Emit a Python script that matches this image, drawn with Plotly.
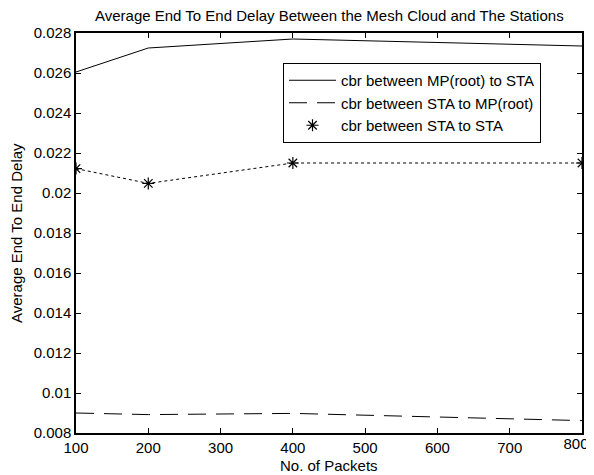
import plotly.graph_objects as go

# ---- data ----
packets = [100, 200, 400, 800]
mp_to_sta = [0.02605, 0.02725, 0.0277, 0.02735]
sta_to_mp = [0.00900, 0.00892, 0.00898, 0.00862]
sta_to_sta = [0.02122, 0.02048, 0.02150, 0.02150]

x_ticks = [100, 200, 300, 400, 500, 600, 700]
x_last_tick = [800]
y_ticks = [0.008, 0.010, 0.012, 0.014, 0.016, 0.018, 0.020, 0.022, 0.024, 0.026, 0.028]
y_tick_text = ["0.008", "0.01", "0.012", "0.014", "0.016", "0.018", "0.02",
               "0.022", "0.024", "0.026", "0.028"]

title = "Average End To End Delay Between the Mesh Cloud and The Stations"
x_title = "No. of Packets"
y_title = "Average End To End Delay"
names = ["cbr between MP(root) to STA", "cbr between STA to MP(root)", "cbr between STA to STA"]

FONT = "Liberation Sans, Arial, sans-serif"
# page body has an 8px margin; figure placed at (8, 8)
W, H = 594, 467
L, R, T, B = 68, 20, 25, 42

fig = go.Figure()
fig.add_trace(go.Scatter(x=packets, y=mp_to_sta, mode="lines", name=names[0],
                         line=dict(color="black", width=1)))
fig.add_trace(go.Scatter(x=packets, y=sta_to_mp, mode="lines", name=names[1],
                         line=dict(color="black", width=1, dash="18px,10px")))
fig.add_trace(go.Scatter(x=packets, y=sta_to_sta, mode="lines", showlegend=False,
                         xaxis="x2",
                         line=dict(color="black", width=1, dash="3px,3px")))
fig.add_trace(go.Scatter(x=packets, y=sta_to_sta, mode="markers", name=names[2],
                         marker=dict(symbol="asterisk-open", size=10, color="black",
                                     line=dict(color="black", width=1.2))))

axis_common = dict(showline=True, linecolor="black", linewidth=1.5, mirror="ticks",
                   ticks="inside", ticklen=5, tickcolor="black", tickwidth=1,
                   showgrid=False, zeroline=False, automargin=False,
                   ticklabeloverflow="allow",
                   tickfont=dict(family=FONT, size=15, color="black"))

fig.update_layout(
    xaxis=dict(range=[100, 800], tickvals=x_ticks + x_last_tick,
               ticktext=[str(v) for v in x_ticks] + [""], **axis_common),
    xaxis2=dict(range=[100, 800], matches="x", overlaying="x", side="bottom",
                tickvals=x_last_tick, ticktext=[str(v) for v in x_last_tick],
                showline=False, ticks="", showgrid=False, zeroline=False,
                automargin=False, ticklabeloverflow="allow", ticklabelshift=-6,
                tickfont=dict(family=FONT, size=15, color="black")),
    yaxis=dict(range=[0.008, 0.028], tickvals=y_ticks, ticktext=y_tick_text,
               **axis_common),
)

fig.update_layout(
    width=W, height=H,
    margin=dict(l=L, r=R, t=T, b=B, autoexpand=False),
    paper_bgcolor="white", plot_bgcolor="white",
    font=dict(family=FONT, size=15, color="black"),
    showlegend=True,
    legend=dict(x=(283 - 8 - L) / (W - L - R), y=(400 - (63 - 33)) / 400,
                xanchor="left", yanchor="top",
                bordercolor="black", borderwidth=1, bgcolor="white",
                itemwidth=47,
                font=dict(family=FONT, size=15, color="black"),
                tracegroupgap=0),
    annotations=[
        dict(text=title, xref="paper", yref="paper", x=0.5, y=1,
             yshift=18, showarrow=False, xanchor="center", yanchor="middle",
             font=dict(family=FONT, size=15, color="black")),
        dict(text=x_title, xref="paper", yref="paper", x=0.5, y=0,
             yshift=-32, showarrow=False, xanchor="center", yanchor="middle",
             font=dict(family=FONT, size=15, color="black")),
        dict(text=y_title, xref="paper", yref="paper", x=0, y=0.5,
             xshift=-60, showarrow=False, xanchor="center", yanchor="middle",
             textangle=-90,
             font=dict(family=FONT, size=15, color="black")),
    ],
)

fig.write_html("out.html")
